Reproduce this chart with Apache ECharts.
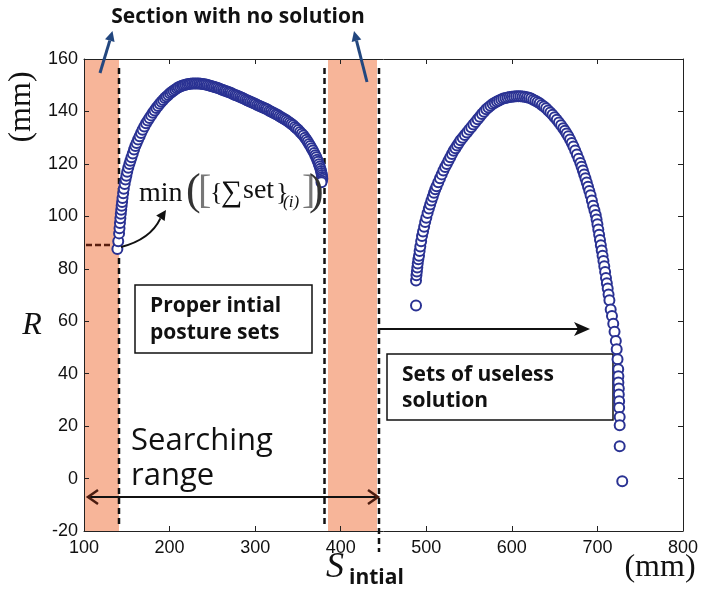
<!DOCTYPE html>
<html><head><meta charset="utf-8">
<script src="https://cdn.jsdelivr.net/npm/echarts@6/dist/echarts.min.js"></script>
<style>html,body{margin:0;padding:0;background:#fff}#c{width:706px;height:591px}</style>
</head><body><div id="c"></div>
<script>
// Axis ranges (mm)
const xRange = [100, 800];
const yRange = [-20, 160];
const xStep = 100;
const yStep = 20;

// First arc: proper initial posture sets  [x (mm), R (mm)]
const arc1 = [
  [139,87.5],[140,90.5],[141,93.5],[141.5,95.5],[142,97.5],[142.5,99.3],[143,101],[143.5,102.5],
  [144,104],[144.5,105.5],[145,107],[145.8,108.8],[146.5,110.5],[147.5,112.3],[148.5,114],
  [149.5,115.5],[150.5,117],[151.7,118.5],[153,120],[154.2,121.2],[155.5,122.5],[157,124],
  [158.5,125.5],[160,126.8],[161.5,128],[163.2,129.3],[165,130.5],[166.7,131.8],[168.5,133],
  [170.5,134.3],[172.5,135.5],[174.5,136.5],[176.5,137.5],[178.5,138.5],[180.5,139.5],
  [182.5,140.4],[184.5,141.3],[186.5,142.1],[188.5,142.9],[190.5,143.7],[192.5,144.4],
  [194.5,145.1],[196.5,145.7],[198.5,146.3],[200.5,146.9],[202.5,147.4],[204.5,147.9],
  [206.5,148.4],[208.5,148.8],[210.5,149.2],[212.5,149.5],[214.5,149.8],[216.5,150],
  [218.5,150.2],[220.5,150.4],[222.5,150.5],[224.5,150.6],[226.5,150.7],[228.5,150.7],
  [230.5,150.7],[232.5,150.7],[234.5,150.7],[236.5,150.6],[238.5,150.5],[240.5,150.4],
  [242.5,150.3],[244.5,150.1],[246.5,149.9],[248.5,149.7],[250.5,149.5],[252.5,149.3],
  [254.5,149.1],[256.5,148.9],[258.5,148.7],[260.5,148.4],[262.5,148.2],[264.5,147.9],
  [266.5,147.7],[268.5,147.4],[270.5,147.2],[272.5,146.9],[274.5,146.6],[276.5,146.3],
  [278.5,146.1],[280.5,145.8],[282.5,145.5],[284.5,145.2],[286.5,144.9],[288.5,144.6],
  [290.5,144.3],[292.5,144],[294.5,143.7],[296.5,143.4],[298.5,143.1],[300.5,142.8],
  [302.5,142.5],[304.5,142.2],[306.5,141.9],[308.5,141.6],[310.5,141.3],[312.5,141],
  [314.5,140.7],[316.5,140.3],[318.5,140],[320.5,139.6],[322.5,139.3],[324.5,138.9],
  [326.5,138.6],[328.5,138.2],[330.5,137.8],[332.5,137.4],[334.5,137],[336.5,136.6],
  [338.5,136.2],[340.5,135.7],[342.5,135.2],[344.5,134.7],[346.5,134.1],[348.5,133.5],
  [350.5,132.9],[352.5,132.2],[354.5,131.5],[356.5,130.8],[358.3,130],[360,129.2],
  [361.5,128.4],[363,127.6],[364.5,126.8],[366,126],[367.5,125.1],[369,124.2],[370.3,123.3],
  [371.5,122.5],[372.5,121.6],[373.5,120.8],[374.5,119.9],[375.5,119],[376.3,118.1],
  [377,117.3],[377.5,116.5],[378,115.8],[378.3,115],[378.5,114.3],[378,113.6],[377.5,113]
];

// Second arc: sets of useless solution  [x (mm), R (mm)]
const arc2 = [
  [488,66],[488,75.5],[488.5,77.5],[489,79],[489.5,80.5],[490,82],[490.7,83.6],[491.5,85],
  [492.2,86.8],[493,88.5],[494,90.5],[495,92.5],[496.2,94.2],[497.5,96],[498.7,97.8],
  [500,99.5],[501.5,101.3],[503,103],[504.5,104.5],[506,106],[507.5,107.5],[509,109],
  [510.5,110.3],[512,111.5],[514,113],[516,114.5],[518,116],[520,117.5],[522,118.8],
  [524,120],[526,121.3],[528,122.5],[530,123.8],[532,125],[534,126],[536,127],[538,128],
  [540,129],[542.5,130],[545,131],[547.5,132],[550,133],[552.5,134],[555,135],[557.5,136],
  [560,137],[562.5,138],[565,139],[567.5,139.9],[570,140.8],[572.5,141.5],[575,142.2],
  [577.5,142.8],[580,143.3],[582.5,143.8],[585,144.2],[587.5,144.6],[590,144.9],
  [592.5,145.1],[595,145.3],[597.5,145.5],[600,145.6],[602.5,145.7],[605,145.8],
  [607.5,145.8],[610,145.8],[612.5,145.7],[615,145.6],[617.5,145.4],[620,145.2],
  [622.5,144.9],[625,144.5],[627.5,144.1],[630,143.6],[632.5,143.1],[635,142.5],
  [637.5,141.9],[640,141.2],[642.5,140.4],[645,139.6],[647.5,138.7],[650,137.8],
  [652.5,136.8],[655,135.8],[657.5,134.7],[660,133.6],[662,132.6],[664,131.6],[666,130.5],
  [668,129.3],[670,128],[672,126.6],[674,125.1],[676,123.6],[678,122],[680,120.3],
  [681.5,118.9],[683,117.5],[684.5,116],[686,114.5],[687.5,112.9],[689,111.3],[690.5,109.7],
  [692,108],[693.5,106],[695,104],[696.5,102.3],[698,100.5],[699,98.8],[700,97],[701,95],
  [702,93],[703,91],[704,89],[705,87],[706,85],[707,83],[708,81],[709,78.8],[710,76.5],
  [711,74.5],[712,72.5],[713,70.2],[714,68],[715.5,64.5],[717,62],[718.5,59],[720,56],
  [721.5,52.5],[722.5,49.3],[723.5,45.5],[724.3,41.7],[724.5,39],[724.5,36.6],[725,34.3],
  [725,32.1],[725.4,29.5],[725.4,27],[726,23.5],[726,20.3],[726,12.3],[729,-1]
];

const chart = echarts.init(document.getElementById('c'), null, {renderer: 'canvas'});
const tickFont = "'Liberation Sans',sans-serif";
const serif = "'Liberation Serif', serif";
function axisCommon() {
  return {
    axisLine: {show: true, onZero: false, lineStyle: {color: '#222', width: 1}},
    axisTick: {show: true, inside: true, length: 5, lineStyle: {color: '#222'}},
    splitLine: {show: false}
  };
}
const peach = '#f7b599';
const navy = '#2a3293';
const dark = '#111';
const blue = '#23477f';

function txt(x, y, text, font, extra) {
  return {type: 'text', z: 10, x: x, y: y,
    style: Object.assign({text: text, font: font, fill: dark, verticalAlign: 'middle'}, extra || {})};
}

chart.setOption({
  animation: false,
  backgroundColor: '#fff',
  grid: {left: 84, top: 59, width: 599, height: 472},
  xAxis: [
    Object.assign({type: 'value', min: xRange[0], max: xRange[1], interval: xStep,
      axisLabel: {fontFamily: tickFont, fontSize: 18, color: dark, margin: 8}}, axisCommon()),
    Object.assign({type: 'value', position: 'top', min: xRange[0], max: xRange[1], interval: xStep,
      axisLabel: {show: false}}, axisCommon())
  ],
  yAxis: [
    Object.assign({type: 'value', min: yRange[0], max: yRange[1], interval: yStep,
      axisLabel: {fontFamily: tickFont, fontSize: 18, color: dark, margin: 6}}, axisCommon()),
    Object.assign({type: 'value', position: 'right', min: yRange[0], max: yRange[1], interval: yStep,
      axisLabel: {show: false}}, axisCommon())
  ],
  series: [
    {type: 'scatter', data: arc1, symbol: 'emptyCircle', symbolSize: 10, z: 5,
     itemStyle: {color: navy, borderColor: navy, borderWidth: 1.6, opacity: 1}},
    {type: 'scatter', data: arc2, symbol: 'emptyCircle', symbolSize: 10, z: 5,
     itemStyle: {color: navy, borderColor: navy, borderWidth: 1.6, opacity: 1}}
  ],
  graphic: [
    // no-solution bands
    {type: 'rect', z: 0, shape: {x: 84, y: 59, width: 35, height: 472}, style: {fill: peach}},
    {type: 'rect', z: 0, shape: {x: 328, y: 59, width: 49, height: 472}, style: {fill: peach}},
    // dashed boundaries
    {type: 'line', z: 1, shape: {x1: 119, y1: 68, x2: 119, y2: 528}, style: {stroke: dark, lineWidth: 2.5, lineDash: [6, 4]}},
    {type: 'line', z: 1, shape: {x1: 324.5, y1: 68, x2: 324.5, y2: 524}, style: {stroke: dark, lineWidth: 2.5, lineDash: [6, 4]}},
    {type: 'line', z: 1, shape: {x1: 379, y1: 68, x2: 379, y2: 552}, style: {stroke: dark, lineWidth: 2.5, lineDash: [6, 4]}},
    {type: 'line', z: 1, shape: {x1: 86, y1: 245, x2: 118, y2: 245}, style: {stroke: '#5a1f10', lineWidth: 2.5, lineDash: [6, 3]}},
    // blue arrows to "Section with no solution"
    {type: 'line', z: 10, shape: {x1: 100, y1: 73, x2: 109.8, y2: 40.6}, style: {stroke: blue, lineWidth: 3}},
    {type: 'polygon', z: 10, shape: {points: [[112.5, 31], [114.6, 42], [105, 39.2]]}, style: {fill: blue}},
    {type: 'line', z: 10, shape: {x1: 367, y1: 82, x2: 356.5, y2: 40.7}, style: {stroke: blue, lineWidth: 3}},
    {type: 'polygon', z: 10, shape: {points: [[354, 31], [361.3, 39.5], [351.7, 41.9]]}, style: {fill: blue}},
    txt(238, 17, 'Section with no solution', "bold 21px 'Open Sans', sans-serif", {align: 'center'}),
    // curved arrow to min
    {type: 'bezierCurve', z: 10, shape: {x1: 121, y1: 247, cpx1: 140, cpy1: 242, cpx2: 154, cpy2: 232, x2: 160.4, y2: 218.3}, style: {stroke: dark, lineWidth: 2, fill: null}},
    {type: 'polygon', z: 10, shape: {points: [[166, 210], [164.6, 221.1], [156.2, 215.5]]}, style: {fill: dark}},
    // formula  min([{Σ set}(i)])
    txt(139, 194, 'min', '28px ' + serif),
    txt(186, 192, '(', '44px ' + serif, {fill: '#333'}),
    txt(198, 192, '[', '40px ' + serif, {fill: '#777'}),
    txt(210, 193, '{', '26px ' + serif),
    txt(221, 193, '\u2211', '30px ' + serif),
    txt(243, 191, 'set', '28px ' + serif),
    txt(276, 193, '}', '26px ' + serif),
    txt(283, 203, '(i)', 'italic 17px ' + serif),
    txt(302, 192, ']', '40px ' + serif, {fill: '#777'}),
    txt(309, 192, ')', '44px ' + serif, {fill: '#333'}),
    // boxes
    {type: 'rect', z: 3, shape: {x: 135, y: 285, width: 177, height: 68}, style: {fill: '#fff', stroke: dark, lineWidth: 1.5}},
    txt(150, 306, 'Proper intial', "bold 21px 'Open Sans', sans-serif"),
    txt(150, 333, 'posture sets', "bold 21px 'Open Sans', sans-serif"),
    {type: 'rect', z: 3, shape: {x: 387, y: 354, width: 226, height: 66}, style: {fill: '#fff', stroke: dark, lineWidth: 1.5}},
    txt(402, 375, 'Sets of useless', "bold 21px 'Open Sans', sans-serif"),
    txt(402, 401, 'solution', "bold 21px 'Open Sans', sans-serif"),
    // right arrow
    {type: 'line', z: 10, shape: {x1: 379, y1: 329, x2: 578, y2: 329}, style: {stroke: dark, lineWidth: 2}},
    {type: 'polygon', z: 10, shape: {points: [[590, 329], [574, 322], [578, 329], [574, 336]]}, style: {fill: dark}},
    // searching range
    txt(131, 441, 'Searching', "31px 'Open Sans', sans-serif"),
    txt(131, 476, 'range', "31px 'Open Sans', sans-serif"),
    {type: 'line', z: 10, shape: {x1: 88, y1: 497, x2: 378, y2: 497}, style: {stroke: dark, lineWidth: 2}},
    {type: 'polyline', z: 10, shape: {points: [[98, 490], [88, 497], [98, 504]]}, style: {stroke: '#4a1c10', lineWidth: 2.5}},
    {type: 'polyline', z: 10, shape: {points: [[368, 490], [378, 497], [368, 504]]}, style: {stroke: '#4a1c10', lineWidth: 2.5}},
    // axis titles
    txt(32, 326, 'R', 'italic 32px ' + serif, {align: 'center'}),
    Object.assign(txt(22, 107, '(mm)', '32px ' + serif, {align: 'center'}), {rotation: Math.PI / 2}),
    txt(660, 568, '(mm)', '32px ' + serif, {align: 'center'}),
    txt(326, 568, 'S', 'italic 36px ' + serif),
    txt(349, 578, 'intial', "bold 21px 'Open Sans', sans-serif")
  ]
});
</script>
</body></html>
